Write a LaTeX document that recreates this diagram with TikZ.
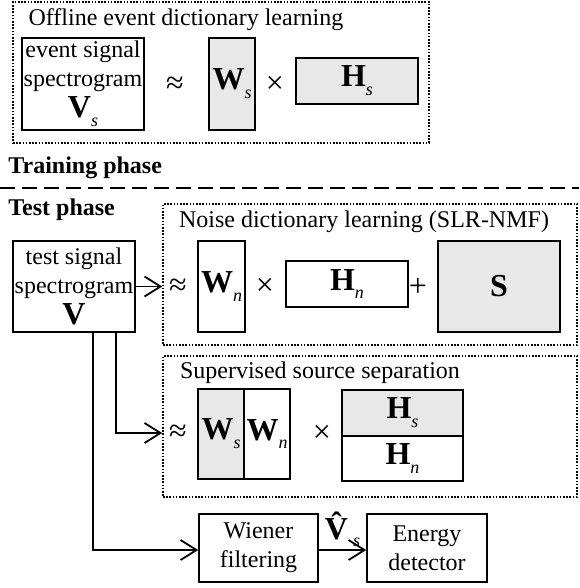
\documentclass[tikz,border=0pt]{standalone}
\usepackage{fontspec}
\setmainfont{Liberation Serif}
\usetikzlibrary{positioning,calc,arrows.meta}

\newcommand{\mtx}[2]{{\fontsize{16}{16}\selectfont\textbf{#1}}\raisebox{-0.8ex}{\fontsize{9}{9}\selectfont\textit{#2}}}

\begin{document}
\begin{tikzpicture}[x=0.5pt,y=-0.5pt]
                \tikzstyle{box}=[draw, line width=0.75pt, inner sep=0pt, align=center, font=\fontsize{12}{14.5}\selectfont]
                \tikzstyle{shade}=[fill=black!9]
                \tikzstyle{frame}=[draw, line width=0.8pt, dash pattern=on 0.8pt off 0.8pt, inner sep=0pt]
                \tikzstyle{txt}=[inner sep=0pt, font=\fontsize{12}{14.5}\selectfont]
                \tikzstyle{op}=[inner sep=0pt, font=\fontsize{16}{16}\selectfont]
                \tikzstyle{arr}=[line width=0.9pt, -{Straight Barb[length=8pt,width=10pt,line width=0.9pt]}]
                \useasboundingbox (0,0) rectangle (579,588);

                % offline training
                \node[frame, minimum width=208pt, minimum height=70.5pt] (offline) at (221,72.5) {};
                \node[txt] (offtitle) at (186,20) {Offline event dictionary learning};
                \node[box, minimum width=61pt, minimum height=46pt] (vs) at (83,84) {event signal\\spectrogram\\[1pt]\mtx{V}{s}};
                \node[op] (apx1) at (175,85) {≈};
                \node[box, shade, minimum width=23pt, minimum height=46pt] (ws) at (232,84) {\mtx{W}{s}};
                \node[op] (mul1) at (275,85) {×};
                \node[box, shade, minimum width=61pt, minimum height=23pt] (hs) at (357,81) {\mtx{H}{s}};

                \node[txt, anchor=west, font=\fontsize{12}{14.5}\selectfont\bfseries] (train) at (8,168) {Training phase};
                \coordinate (sepl) at (0,188);
                \coordinate (sepr) at (579,188);
                \draw[line width=0.8pt, dash pattern=on 7.5pt off 3.5pt] (sepl) -- (sepr);
                \node[txt, anchor=west, font=\fontsize{12}{14.5}\selectfont\bfseries] (test) at (8,210) {Test phase};

                % noise dictionary
                \node[frame, minimum width=207pt, minimum height=70.5pt] (noise) at (370,274.5) {};
                \node[txt] (noisetitle) at (364,222) {Noise dictionary learning (SLR-NMF)};
                \node[box, minimum width=61pt, minimum height=45.5pt] (v) at (74,286.5) {test signal\\spectrogram\\[1pt]{\fontsize{16}{16}\selectfont\textbf{V}}};
                \node[op] (apx2) at (178,287) {≈};
                \node[box, minimum width=23.5pt, minimum height=45.5pt] (wn) at (221.5,286.5) {\mtx{W}{n}};
                \node[op] (mul2) at (265,287) {×};
                \node[box, minimum width=61pt, minimum height=23pt] (hn) at (347,284) {\mtx{H}{n}};
                \node[op] (plus) at (418,287) {+};
                \node[box, shade, minimum width=61pt, minimum height=45.5pt] (s) at (499,286.5) {{\fontsize{16}{16}\selectfont\textbf{S}}};

                % supervised separation
                \node[frame, minimum width=207pt, minimum height=70.5pt] (sup) at (370,426.5) {};
                \node[txt] (suptitle) at (320,373) {Supervised source separation};
                \node[op] (apx3) at (178,433) {≈};
                \node[box, shade, minimum width=23pt, minimum height=45pt] (wss) at (221,434) {\mtx{W}{s}};
                \node[box, minimum width=23pt, minimum height=45pt] (wnn) at (267,434) {\mtx{W}{n}};
                \node[op] (mul3) at (322,434) {×};
                \node[box, shade, minimum width=60.5pt, minimum height=23pt] (hss) at (402.5,413) {\mtx{H}{s}};
                \node[box, minimum width=60.5pt, minimum height=22.5pt] (hnn) at (402.5,458.5) {\mtx{H}{n}};

                % post-processing
                \node[box, minimum width=59.5pt, minimum height=34pt] (wiener) at (258.5,548) {Wiener\\filtering};
                \node[box, minimum width=60pt, minimum height=34pt] (energy) at (427,548) {Energy\\detector};

                \draw[arr] (v.east) -- (v.east -| noise.west);
                \draw[arr] ([xshift=21pt]v.south) |- (apx3 -| sup.west);
                \draw[arr] ([xshift=9.5pt]v.south) |- ([yshift=-1pt]wiener.west);
                \draw[arr] ([yshift=-1pt]wiener.east) -- node[above=1pt, inner sep=0pt] {{\fontsize{16}{16}\selectfont\textbf{\^{V}}}\raisebox{-0.8ex}{\fontsize{9}{9}\selectfont\textit{s}}} ([yshift=-1pt]energy.west);
            \end{tikzpicture}
\end{document}
